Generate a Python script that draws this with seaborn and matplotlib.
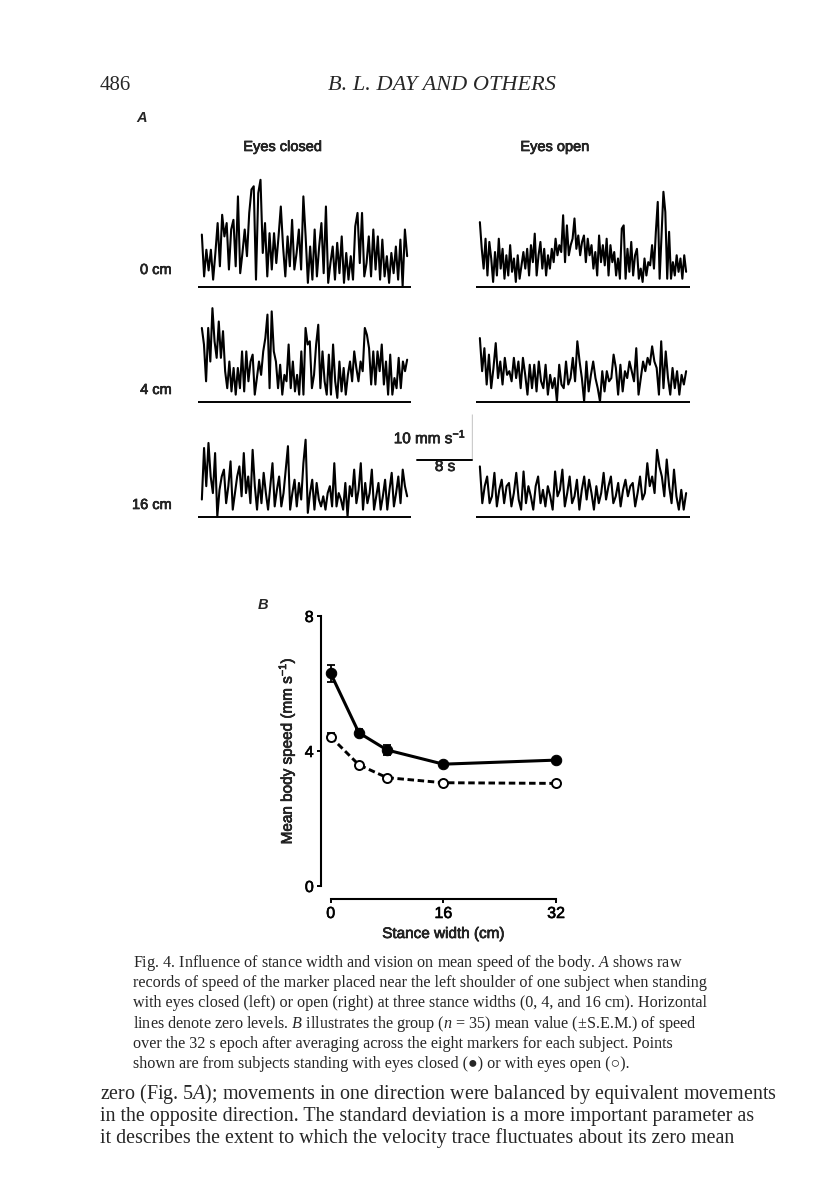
"""Fig. 4 page: raw speed traces (A) and mean body speed vs stance width (B)."""
import matplotlib
matplotlib.use("Agg")
import matplotlib.pyplot as plt
import matplotlib.patheffects as pe
import numpy as np
import seaborn as sns

W, H = 816, 1200
OUT_PNG = "out.png"

# ---- panel A: raw speed records (mm/s) ----
EPOCH_S = 32
CLOSED_0CM = [11.4, 2.3, 8.1, 3.6, 8.1, 1.6, 7.4, 13.9, 4.5, 15.7, 11.0, 13.9, 3.8, 12.5, 14.6, 4.5,
              19.7, 3.0, 7.4, 12.5, 6.7, 16.1, 21.2, 21.9, 1.6, 20.4, 23.3, 7.4, 13.9, 2.3, 11.7, 3.8,
              11.7, 5.2, 11.0, 17.5, 8.8, 2.3, 11.0, 4.5, 14.6, 3.8, 7.4, 12.5, 3.8, 19.7, 11.0, 0.9,
              8.8, 1.6, 12.5, 2.3, 8.8, 13.9, 3.0, 17.5, 0.9, 5.2, 8.8, 1.6, 9.6, 3.0, 11.0, 0.9,
              7.4, 1.6, 6.7, 1.6, 13.2, 16.1, 5.2, 16.1, 2.3, 5.2, 11.0, 2.3, 12.5, 3.8, 11.0, 1.6,
              10.3, 2.3, 6.7, 0.9, 7.4, 3.0, 8.8, 1.6, 10.3, 0.2, 12.5, 6.7]
OPEN_0CM = [14.1, 8.3, 4.0, 10.5, 2.5, 9.8, 6.2, 1.1, 7.6, 2.5, 10.5, 4.0, 8.3, 1.8, 6.9, 2.5,
            9.1, 3.3, 6.2, 1.1, 6.9, 1.8, 4.7, 7.6, 4.0, 8.3, 2.5, 9.1, 5.4, 11.6, 2.5, 6.9,
            9.8, 4.0, 8.3, 2.5, 6.9, 4.0, 8.3, 5.4, 10.5, 6.9, 9.1, 7.6, 15.6, 5.4, 13.4, 6.9,
            9.1, 10.5, 14.9, 8.3, 11.2, 6.9, 9.8, 11.2, 5.4, 10.5, 6.9, 9.1, 4.0, 7.6, 2.5, 11.2,
            5.4, 9.1, 4.7, 10.5, 2.5, 9.1, 5.4, 7.6, 2.5, 6.2, 1.8, 12.7, 13.4, 1.8, 8.3, 3.3,
            9.8, 2.5, 6.9, 8.3, 1.8, 4.0, 1.1, 6.2, 2.5, 5.4, 4.7, 9.1, 4.0, 12.0, 18.5, 1.8,
            11.2, 20.7, 16.3, 1.8, 12.0, 1.8, 5.4, 2.5, 6.9, 3.3, 6.2, 1.8, 6.9, 3.3]
CLOSED_4CM = [16.1, 12.5, 4.5, 16.1, 8.8, 20.4, 13.2, 9.6, 17.5, 9.6, 15.4, 6.7, 3.0, 8.8, 2.3, 7.4,
              1.6, 7.4, 3.0, 11.0, 2.3, 11.0, 4.5, 8.8, 10.3, 1.6, 5.2, 8.8, 5.9, 11.0, 13.9, 19.0,
              3.0, 19.7, 11.0, 8.8, 3.0, 8.1, 1.6, 5.9, 4.5, 12.5, 3.0, 8.8, 2.3, 5.9, 1.6, 11.0,
              1.6, 16.1, 12.5, 13.2, 3.0, 5.9, 12.5, 16.8, 3.0, 11.0, 4.5, 1.6, 10.3, 1.6, 12.5, 4.5,
              0.9, 8.8, 2.3, 7.4, 1.6, 5.9, 8.8, 4.5, 11.0, 7.4, 4.5, 8.8, 6.7, 16.1, 14.6, 11.7,
              3.8, 11.0, 3.8, 11.0, 6.7, 12.5, 3.8, 8.8, 1.6, 10.3, 1.6, 5.2, 3.0, 9.6, 3.0, 8.8,
              6.7, 9.2]
OPEN_4CM = [13.9, 6.7, 11.7, 3.8, 10.3, 3.0, 7.4, 12.8, 5.2, 8.8, 3.8, 9.6, 5.9, 6.7, 4.5, 9.6,
            5.2, 8.8, 3.0, 9.6, 5.9, 1.6, 8.1, 3.0, 8.1, 2.3, 8.8, 4.5, 3.0, 8.1, 1.6, 5.9,
            3.0, 5.2, 0.1, 8.1, 3.8, 3.0, 8.8, 3.8, 5.2, 9.6, 4.5, 13.2, 8.8, 5.2, 0.1, 8.8,
            2.3, 5.9, 8.8, 5.2, 3.0, 0.1, 6.7, 2.3, 6.7, 4.5, 5.2, 10.3, 7.4, 1.6, 8.1, 2.3,
            6.7, 5.2, 8.8, 6.7, 4.5, 11.7, 1.6, 5.2, 8.8, 6.7, 9.6, 8.1, 12.1, 8.8, 7.4, 1.6,
            13.2, 3.0, 11.0, 5.2, 1.6, 7.4, 3.0, 6.7, 1.6, 5.9, 3.8, 6.7]
CLOSED_16CM = [3.8, 15.0, 6.7, 16.1, 8.8, 5.2, 13.9, 0.1, 5.9, 8.8, 10.3, 3.0, 6.7, 12.1, 1.6, 5.2,
               8.8, 11.0, 4.5, 13.9, 5.2, 8.8, 3.0, 14.6, 6.7, 1.6, 8.1, 3.0, 9.6, 5.2, 1.6, 6.7,
               11.7, 2.3, 5.9, 8.8, 2.3, 5.2, 10.3, 15.4, 1.6, 5.2, 8.1, 2.3, 7.4, 3.8, 11.7, 16.8,
               0.9, 5.2, 8.1, 1.6, 7.4, 3.8, 2.3, 4.5, 1.6, 5.2, 6.7, 2.3, 11.7, 2.3, 5.2, 3.8,
               1.6, 7.4, 0.1, 6.7, 4.5, 10.3, 3.0, 5.9, 11.7, 1.6, 7.4, 3.0, 5.2, 10.3, 1.6, 4.5,
               7.4, 1.6, 4.5, 8.1, 1.6, 5.9, 9.6, 2.3, 5.2, 8.8, 3.0, 10.3, 6.7, 4.5]
OPEN_16CM = [11.0, 3.0, 6.7, 8.8, 3.0, 4.5, 9.6, 2.3, 5.9, 8.1, 3.0, 6.7, 7.4, 2.3, 5.2, 9.6,
             3.8, 1.6, 9.9, 3.0, 6.7, 4.5, 1.6, 6.7, 8.8, 3.0, 5.9, 2.3, 6.7, 4.5, 1.6, 9.9,
             4.5, 5.9, 10.3, 2.3, 5.2, 8.8, 3.0, 4.5, 8.1, 1.6, 5.9, 8.8, 3.8, 8.1, 5.2, 1.6,
             6.7, 3.0, 5.2, 9.6, 3.8, 6.7, 8.8, 3.0, 4.5, 7.4, 2.3, 5.9, 8.1, 4.5, 6.7, 7.4,
             2.3, 5.2, 8.8, 3.8, 5.2, 11.7, 6.7, 8.8, 5.2, 14.6, 11.0, 8.8, 4.5, 12.5, 6.7, 3.0,
             10.3, 4.5, 1.6, 5.9, 1.6, 5.2]
ROW_LABELS = ["0 cm", "4 cm", "16 cm"]
COL_TITLES = ["Eyes closed", "Eyes open"]
SCALE_S = 8
SCALE_MM_S = 10

# ---- panel B: group mean (+/- s.e.m.) body speed ----
STANCE_CM = [0, 4, 8, 16, 32]
CLOSED_MEAN = [6.30, 4.54, 4.03, 3.61, 3.73]
CLOSED_SEM = [0.26, 0.11, 0.16, 0.05, 0.05]
OPEN_MEAN = [4.42, 3.59, 3.21, 3.06, 3.04]
OPEN_SEM = [0.10, 0.06, 0.05, 0.04, 0.04]

CAPTION = [
    "Fig. 4. Influence of stance width and vision on mean speed of the body. $A$ shows raw",
    "records of speed of the marker placed near the left shoulder of one subject when standing",
    "with eyes closed (left) or open (right) at three stance widths (0, 4, and 16 cm). Horizontal",
    "lines denote zero levels. $B$ illustrates the group ($n$ = 35) mean value (±S.E.M.) of speed",
    "over the 32 s epoch after averaging across the eight markers for each subject. Points",
    "shown are from subjects standing with eyes closed (\u25cf) or with eyes open (\u25cb).",
]
BODY = [
    "zero (Fig. 5$A$); movements in one direction were balanced by equivalent movements",
    "in the opposite direction. The standard deviation is a more important parameter as",
    "it describes the extent to which the velocity trace fluctuates about its zero mean",
]

sns.set_style("white")
plt.rcParams["font.family"] = ["Liberation Sans", "DejaVu Sans"]
plt.rcParams["mathtext.fontset"] = "custom"
plt.rcParams["mathtext.rm"] = "Liberation Serif"
plt.rcParams["mathtext.it"] = "Liberation Serif:italic"
plt.rcParams["lines.scale_dashes"] = False

SERIF = ["Liberation Serif", "DejaVu Sans"]
PX_PER_MM_S = 4.6
# scanned print looks a bit heavier than the clean font (sans labels only)
INK = [pe.withStroke(linewidth=0.45, foreground="black")]


def px_axes(fig, x0, y0, x1, y1):
    """Axes from pixel box (top-left origin)."""
    return fig.add_axes([x0 / W, 1 - y1 / H, (x1 - x0) / W, (y1 - y0) / H])


def ftext(fig, x, y, s, **kw):
    return fig.text(x / W, 1 - y / H, s, **kw)


fig = plt.figure(figsize=(W / 100, H / 100), dpi=100)

# page header
ftext(fig, 100, 86, "486", family=SERIF, fontsize=15, va="center")
ftext(fig, 442, 86, "B. L. DAY AND OTHERS", family=SERIF, fontsize=16,
      style="italic", ha="center", va="center")

# ---- panel A ----
ftext(fig, 136, 118, "A", fontsize=10.5, style="italic", weight="bold", va="center")
ftext(fig, 283, 147, COL_TITLES[0], fontsize=10.5, ha="center", va="center", path_effects=INK)
ftext(fig, 555, 147, COL_TITLES[1], fontsize=10.5, ha="center", va="center", path_effects=INK)

traces = [(CLOSED_0CM, OPEN_0CM), (CLOSED_4CM, OPEN_4CM), (CLOSED_16CM, OPEN_16CM)]
baselines = [287, 402, 517]
label_y = [270, 390, 505]
cols_px = [(198, 411), (476, 690)]
for row, (pair, base) in enumerate(zip(traces, baselines)):
    ftext(fig, 172, label_y[row], ROW_LABELS[row], fontsize=10.5, ha="right", va="center",
          path_effects=INK)
    for (x0, x1), vals in zip(cols_px, pair):
        ax = px_axes(fig, x0, base - 25 * PX_PER_MM_S, x1, base + 1 * PX_PER_MM_S)
        t = np.linspace(0, EPOCH_S, len(vals))
        sns.lineplot(x=t, y=vals, ax=ax, color="black", linewidth=1.5)
        ax.axhline(0, color="black", linewidth=1.4)
        ax.set_xlim(-0.6, EPOCH_S + 0.6)
        ax.set_ylim(-1, 25)
        ax.axis("off")

# calibration bar
sax = px_axes(fig, 417, 414, 472, 460)
sns.lineplot(x=[0, SCALE_S], y=[0, 0], ax=sax, color="black", linewidth=1.4)
sns.lineplot(x=[SCALE_S, SCALE_S], y=[0, SCALE_MM_S], ax=sax, color="black", linewidth=1.4)
sax.set_xlim(0, SCALE_S)
sax.set_ylim(0, SCALE_MM_S)
for ln in sax.lines:
    ln.set_clip_on(False)
sax.axis("off")
ftext(fig, 466, 437, "10 mm s$\\mathregular{^{-1}}$", fontsize=11, ha="right", va="center",
      path_effects=INK)
ftext(fig, 445, 467, "8 s", fontsize=11, ha="center", va="center", path_effects=INK)

# ---- panel B ----
ftext(fig, 258, 605, "B", fontsize=10.5, style="italic", weight="bold", va="center")
bx = fig.add_axes([330.7 / W, 1 - 886 / H, 225.3 / W, 270 / H])
bx.errorbar(STANCE_CM, CLOSED_MEAN, yerr=CLOSED_SEM, fmt="none", ecolor="black",
            elinewidth=1.3, capsize=2.8, capthick=1.3, clip_on=False, zorder=2)
bx.errorbar(STANCE_CM, OPEN_MEAN, yerr=OPEN_SEM, fmt="none", ecolor="black",
            elinewidth=1.3, capsize=2.8, capthick=1.3, clip_on=False, zorder=2)
sns.lineplot(x=STANCE_CM, y=CLOSED_MEAN, ax=bx, color="black", linewidth=2.2,
             marker="o", markersize=7.5, markerfacecolor="black", markeredgecolor="black")
sns.lineplot(x=STANCE_CM, y=OPEN_MEAN, ax=bx, color="black", linewidth=2.1,
             marker="o", markersize=6.5, markerfacecolor="white", markeredgecolor="black",
             markeredgewidth=1.4)
bx.lines[-1].set_dashes([4.7, 2.6])
for ln in bx.lines:
    ln.set_clip_on(False)
    ln.set_zorder(3)
bx.set_xlim(0, 32)
bx.set_ylim(0, 8)
sns.despine(ax=bx)
bx.spines["left"].set_position(("outward", 7.2))
bx.spines["bottom"].set_position(("outward", 9.4))
bx.spines["left"].set_bounds(0, 8)
bx.spines["bottom"].set_bounds(0, 32)
for sp in ("left", "bottom"):
    bx.spines[sp].set_linewidth(1.5)
    bx.spines[sp].set_color("black")
bx.set_xticks([0, 16, 32])
bx.set_yticks([0, 4, 8])
bx.tick_params(direction="out", length=3, width=1.4, labelsize=11.5, pad=2,
               colors="black", left=True, bottom=True)
for lab in bx.get_xticklabels() + bx.get_yticklabels():
    lab.set_path_effects(INK)
bx.set_xlabel("Stance width (cm)", fontsize=11, path_effects=INK)
bx.set_ylabel("Mean body speed (mm s$\\mathregular{^{-1}}$)", fontsize=11, path_effects=INK)
bx.xaxis.label.set_va("center")
bx.yaxis.label.set_va("center")
bx.xaxis.set_label_coords(0.5, (886 - 934) / 270)
bx.yaxis.set_label_coords((287 - 330.7) / 225.3, 0.5)
bx.grid(False)

# ---- caption and running text ----
for i, line in enumerate(CAPTION):
    ftext(fig, 133, 963 + i * 20.2, line, family=SERIF, fontsize=11.6, va="center")
for i, line in enumerate(BODY):
    ftext(fig, 100, 1094 + i * 22, line, family=SERIF, fontsize=14.4, va="center")

fig.savefig(OUT_PNG, dpi=100, facecolor="white")
plt.close(fig)
